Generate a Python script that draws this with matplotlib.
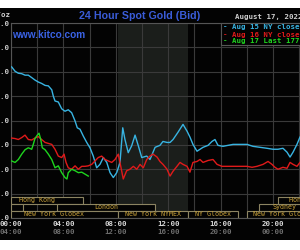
import matplotlib
matplotlib.use("Agg")
import matplotlib.pyplot as plt
from matplotlib.patches import Rectangle
from matplotlib.transforms import blended_transform_factory

# hours since 00:00 NY time, price in USD/oz
aug15_t = [0.05, 0.31, 0.56, 0.82, 1.07, 1.32, 1.58, 1.83, 2.08, 2.34, 2.60, 2.85,
           3.11, 3.23, 3.36, 3.61, 3.87, 4.12, 4.37, 4.63, 4.89, 5.06, 5.27, 5.52,
           5.78, 6.03, 6.28, 6.54, 6.79, 7.05, 7.31, 7.56, 7.81, 8.07, 8.32, 8.53,
           8.70, 8.95, 9.21, 9.47, 9.72, 9.98, 10.36, 10.61, 11.0, 11.37, 11.6,
           11.91, 12.14, 12.37, 12.75, 13.13, 13.44, 13.66, 13.89, 14.2, 14.43,
           14.66, 15.04, 15.34, 15.57, 15.8, 16.18, 16.56, 16.95, 17.48, 18.02,
           18.47, 19.01, 19.54, 20.0, 20.38, 20.76, 21.07, 21.3, 21.53, 21.83, 22.06]
aug15_p = [1796.0, 1795.1, 1794.7, 1794.6, 1794.3, 1794.3, 1793.8, 1793.3, 1792.9,
           1792.6, 1792.2, 1792.1, 1791.3, 1790.0, 1789.0, 1788.8, 1787.4, 1786.9,
           1787.2, 1786.6, 1784.9, 1783.5, 1783.2, 1781.8, 1780.5, 1779.4, 1777.7,
           1775.3, 1776.0, 1777.4, 1776.4, 1774.3, 1773.3, 1774.3, 1776.4, 1783.5,
           1781.1, 1778.4, 1779.8, 1782.0, 1779.8, 1777.4, 1777.7, 1777.0, 1779.5,
           1779.9, 1780.7, 1780.5, 1780.5, 1781.1, 1782.6, 1784.2, 1782.8, 1781.6,
           1780.1, 1778.7, 1779.1, 1779.5, 1779.9, 1780.7, 1781.1, 1779.9, 1779.7,
           1779.9, 1780.1, 1780.1, 1780.1, 1779.7, 1779.5, 1779.3, 1779.1, 1779.1,
           1779.3, 1778.5, 1777.5, 1778.5, 1780.1, 1781.6]

aug16_t = [0.05, 0.31, 0.56, 0.82, 1.07, 1.32, 1.58, 1.83, 2.08, 2.34, 2.60, 2.85,
           3.11, 3.36, 3.61, 3.87, 4.05, 4.2, 4.37, 4.63, 4.89, 5.14, 5.40, 5.65,
           5.90, 6.16, 6.41, 6.66, 6.92, 7.18, 7.43, 7.69, 7.94, 8.19, 8.37, 8.57,
           8.83, 9.08, 9.34, 9.60, 9.85, 10.1, 10.36, 10.61, 10.84, 11.15, 11.37,
           11.6, 11.91, 12.14, 12.37, 12.67, 12.9, 13.13, 13.44, 13.66, 13.89, 14.2,
           14.43, 14.66, 15.04, 15.42, 15.73, 16.1, 16.49, 16.95, 17.48, 18.02,
           18.4, 18.78, 19.24, 19.62, 19.92, 20.15, 20.38, 20.76, 21.07, 21.3,
           21.53, 21.83, 22.06]
aug16_p = [1781.4, 1781.3, 1781.1, 1781.5, 1782.0, 1781.1, 1781.0, 1781.4, 1781.7,
           1781.1, 1780.5, 1780.3, 1780.1, 1779.1, 1777.7, 1777.4, 1778.1, 1776.4,
           1775.3, 1775.0, 1775.7, 1775.0, 1775.6, 1775.6, 1775.7, 1776.0, 1776.7,
           1777.4, 1777.7, 1777.0, 1776.7, 1776.4, 1777.0, 1778.1, 1775.7, 1773.0,
           1774.7, 1775.0, 1775.6, 1775.0, 1776.0, 1775.3, 1777.0, 1777.7, 1778.1,
           1777.5, 1776.6, 1776.0, 1775.0, 1773.6, 1774.6, 1775.6, 1776.4, 1776.0,
           1775.6, 1774.4, 1776.4, 1776.6, 1777.0, 1776.4, 1776.8, 1777.0, 1776.0,
           1775.6, 1775.6, 1775.6, 1775.6, 1775.6, 1775.4, 1775.6, 1776.0, 1776.6,
           1776.0, 1775.4, 1775.0, 1775.4, 1775.2, 1776.4, 1776.0, 1775.6, 1776.4]

aug17_t = [0.05, 0.31, 0.56, 0.82, 1.07, 1.32, 1.58, 1.70, 1.83, 2.01, 2.14, 2.27,
           2.39, 2.60, 2.85, 3.11, 3.36, 3.61, 3.87, 4.12, 4.27, 4.37, 4.63, 4.89,
           5.14, 5.40, 5.65, 5.90]
aug17_p = [1776.7, 1776.4, 1777.0, 1778.1, 1779.0, 1779.4, 1779.1, 1780.1, 1781.3,
           1782.0, 1782.4, 1781.1, 1779.4, 1779.0, 1778.1, 1777.0, 1775.3, 1775.7,
           1774.3, 1773.3, 1773.0, 1774.3, 1775.0, 1774.7, 1774.3, 1774.4, 1774.0,
           1773.6]

legend_labels = ["- Aug 15 NY close 1779.70", "- Aug 16 NY close 1775.60",
                 "- Aug 17 Last 1773.70"]

# trading sessions: name, start hour, end hour, row (0 = bottom)
session_names = ["Hong Kong", "", "London", "New York Globex", "New York NYMEX",
                 "NY Globex", "New York Globex", "Sydney", "Hong Kong"]
session_start = [0, 0, 3.5, 0, 8.2, 13.5, 18.0, 18.9, 20.4]
session_end = [5.5, 0.9, 11.0, 8.2, 13.5, 17.3, 24, 24, 24]
session_row = [2, 1, 1, 0, 0, 0, 0, 1, 2]
session_label_x = [2.0, 0, 7.25, 3.3, 10.85, 15.4, 20.8, 20.85, 22.6]

top_times = ["00:00", "04:00", "08:00", "12:00", "16:00", "20:00"]
bottom_times = ["04:00", "08:00", "12:00", "16:00", "20:00", "00:00"]

CYAN = "#38b4e2"
RED = "#e01a1a"
GREEN = "#1ed41e"
MONO = "DejaVu Sans Mono"

W, H = 300, 250
fig = plt.figure(figsize=(3, 2.5), dpi=100, facecolor="white")
fig.patches.append(Rectangle((0, 10 / H), 1, 232 / H, transform=fig.transFigure,
                             facecolor="#030303", edgecolor="none", zorder=-5))

ax = fig.add_axes([11 / W, 32 / H, 314.4 / W, 195 / H])
ax.set_facecolor("#030303")
ax.set_xlim(0, 24)
ax.set_ylim(1765, 1805)
ax.axvspan(8.2, 13.5, color="#1b1e1b", zorder=0.5, lw=0)

ax.set_xticks(range(0, 25, 2))
ax.set_yticks(range(1765, 1806, 5))
ax.grid(True, color="#3a3a3a", lw=0.8)
ax.set_xticklabels([])
ax.tick_params(length=0, pad=1)
ax.set_yticklabels([f"{v:.1f}" for v in range(1765, 1806, 5)],
                   fontfamily=MONO, fontsize=5.3, fontweight="bold", color="#d0d0d0")
for s in ax.spines.values():
    s.set_color("#555555")
    s.set_linewidth(0.8)

ax.plot(aug15_t, aug15_p, color=CYAN, lw=1.0, zorder=3)
ax.plot(aug16_t, aug16_p, color=RED, lw=1.0, zorder=3)
ax.plot(aug17_t, aug17_p, color=GREEN, lw=1.0, zorder=3)

# session boxes
tr = blended_transform_factory(ax.transData, ax.transAxes)
row_h = 0.036
for name, s0, s1, row, lx in zip(session_names, session_start, session_end,
                                 session_row, session_label_x):
    ax.add_patch(Rectangle((s0, row * row_h), s1 - s0, row_h, transform=tr,
                           facecolor="#030303", edgecolor="#8c8462", lw=0.8, zorder=4))
    if name:
        ax.text(lx, (row + 0.5) * row_h, name, transform=tr, ha="center",
                va="center", fontsize=4.8, family=MONO, color="#c9a23a", zorder=5)

# time labels
for i, (a, b) in enumerate(zip(top_times, bottom_times)):
    x = 11 + i * 2 * 26.2
    fig.text(x / W, 1 - 224 / H, a, ha="center", va="center", family=MONO,
             fontsize=5.3, fontweight="bold", color="#d8d8d8")
    fig.text(x / W, 1 - 232 / H, b, ha="center", va="center", family=MONO,
             fontsize=5.3, fontweight="bold", color="#6e6e6e")

fig.text(10 / W, 1 - 15 / H, "$/oz", ha="right", va="center", family=MONO,
         fontsize=5.3, fontweight="bold", color="#d0d0d0")

fig.text(140 / W, 1 - 16 / H, "24 Hour Spot Gold (Bid)", ha="center", va="center",
         family="Liberation Sans", fontsize=7.7, fontweight="bold", color="#3a5cd8")
fig.text(12 / W, 1 - 35 / H, "www.kitco.com", ha="left", va="center",
         family="Liberation Sans", fontsize=7.3, fontweight="bold", color="#3a62e4")
fig.text(235 / W, 1 - 17 / H, "August 17, 2022 06:52 NY Time", ha="left",
         va="center", family=MONO, fontsize=5.3, fontweight="bold", color="#d0d0d0")

# legend box
fig.patches.append(Rectangle((221 / W, 1 - 45 / H), 100 / W, 22 / H,
                             transform=fig.transFigure, facecolor="#030303",
                             edgecolor="#555555", lw=0.8, zorder=5))
for i, (lbl, c) in enumerate(zip(legend_labels, [CYAN, RED, GREEN])):
    fig.text(223 / W, 1 - (27.5 + 7 * i) / H, lbl, ha="left", va="center",
             family=MONO, fontsize=5.3, fontweight="bold", color=c, zorder=6)

fig.patches.append(Rectangle((0, 0), 1, 10 / H, transform=fig.transFigure,
                             facecolor="white", edgecolor="none", zorder=10))

fig.savefig("out.png", dpi=100, facecolor="white")
